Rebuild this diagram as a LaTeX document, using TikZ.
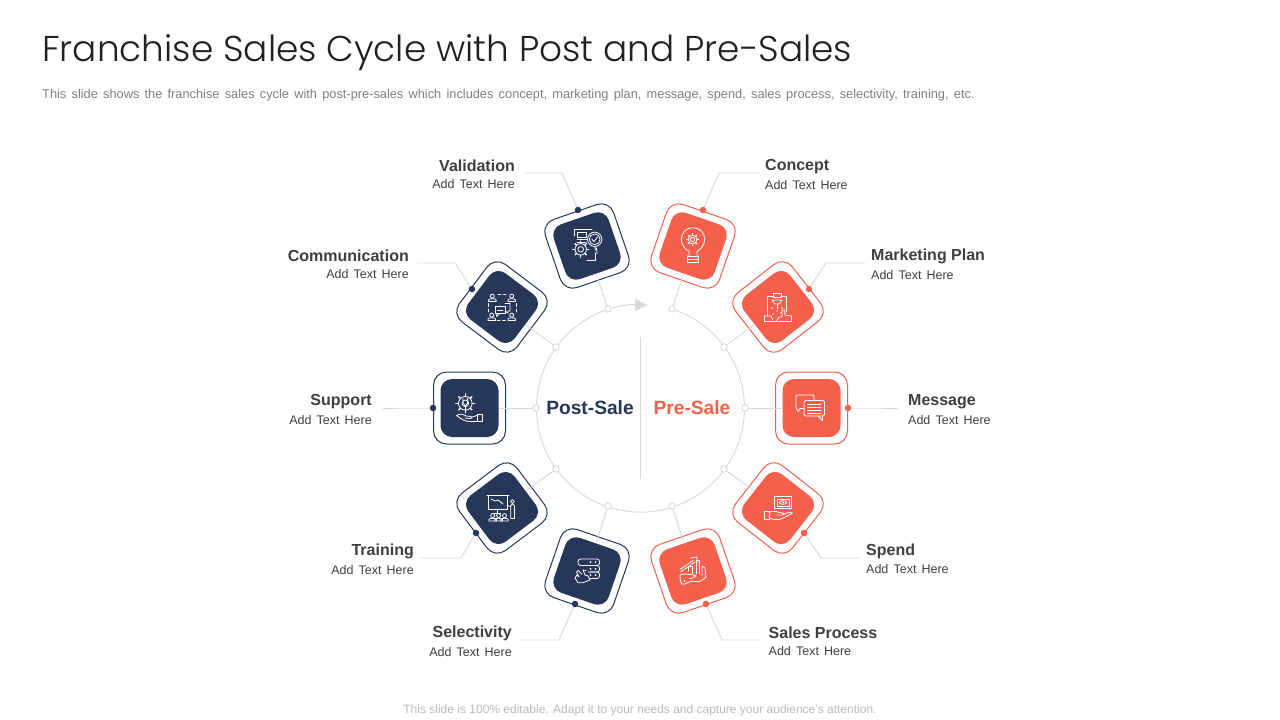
\documentclass[tikz,border=0pt]{standalone}
\usepackage{fontspec}
\setmainfont{Liberation Sans}
\newfontfamily\titlefont{Poppins Light}
\newfontfamily\widefont[WordSpace=1.65]{Liberation Sans}
\newfontfamily\subfont[WordSpace=1.47]{Liberation Sans}
\definecolor{navy}{HTML}{27375A}
\definecolor{coral}{HTML}{F5604D}
\definecolor{linegray}{HTML}{D9D9D9}
\definecolor{labelgray}{HTML}{3F3F3F}
\tikzset{
  outerbox/.style={draw=#1,fill=white,line width=1pt,rounded corners=13pt,minimum size=72pt,inner sep=0pt},
  innerbox/.style={fill=#1,rounded corners=11.5pt,minimum size=58pt,inner sep=0pt},
  ringnode/.style={circle,draw=linegray,fill=white,line width=0.9pt,minimum size=6.5pt,inner sep=0pt},
  dotnode/.style={circle,fill=#1,minimum size=6.5pt,inner sep=0pt},
  link/.style={draw=linegray,line width=0.9pt},
  icon/.style={draw=white,line width=0.8pt,line join=round,line cap=round,fill=none},
  lblR/.style={anchor=east,align=right,text=labelgray,inner sep=0pt},
  lblL/.style={anchor=west,align=left,text=labelgray,inner sep=0pt}
}
\newcommand\lbl[1]{{\fontsize{16}{20}\selectfont\bfseries #1}\\[5.5pt]{\widefont\fontsize{12.5}{14}\selectfont Add Text Here}}
% name, colour, rotation, centre, ring, dot, bend, free end
\newcommand\spoke[8]{
  \node[outerbox=#2,rotate=#3] (o#1) at (#4) {};
  \node[innerbox=#2,rotate=#3] (b#1) at (#4) {};
  \node[ringnode] (r#1) at (#5) {};
  \draw[link] (r#1) -- (b#1);
  \node[dotnode=#2] (d#1) at (#6) {};
  \coordinate (k#1) at (#7);
  \coordinate (e#1) at (#8);
  \draw[link] (d#1) -- (k#1) -- (e#1);
}
\newcommand\gearicon[3]{
  \begin{scope}[shift={(#1,#2)}]
    \draw[icon] (0,0) circle[radius=#3*0.72];
    \draw[icon] (0,0) circle[radius=#3*0.35];
    \foreach \a in {0,45,...,315} \draw[icon,line width=1.3pt] (\a:#3*0.74) -- (\a:#3);
  \end{scope}
}
\newcommand\person[2]{
  \begin{scope}[shift={(#1,#2)}]
    \draw[icon] (0,-2.4) circle[radius=2];
    \draw[icon] (-3.8,3) -- (-3.8,1.6) .. controls (-3.8,-0.2) and (3.8,-0.2) .. (3.8,1.6) -- (3.8,3) -- cycle;
  \end{scope}
}
\begin{document}
\begin{tikzpicture}[x=1pt,y=-1pt]
\useasboundingbox (0,0) rectangle (1280,720);
\fill[white] (0,0) rectangle (1280,720);
% headings
\node[anchor=west,inner sep=0pt,text=black!87] (title) at (42,53) {\titlefont\fontsize{35.9}{40}\selectfont Franchise Sales Cycle with Post and Pre-Sales};
\node[anchor=west,inner sep=0pt,text=black!50] (sub) at (42,95.2) {\subfont\fontsize{12.8}{14}\selectfont This slide shows the franchise sales cycle with post-pre-sales which includes concept, marketing plan, message, spend, sales process, selectivity, training, etc.};
\node[inner sep=0pt,text=black!27] (foot) at (640,710) {\fontsize{12}{14}\selectfont This slide is 100\% editable. Adapt it to your needs and capture your audience's attention.};
% wheel
\coordinate (wheelstart) at (672,309);
\draw[link] (wheelstart) arc[start angle=72.35,end angle=-267,radius=104pt];
\fill[linegray] (635,299) -- (647.5,305) -- (635,311) -- cycle;
\coordinate (dtop) at (640.5,337);
\coordinate (dbot) at (640.5,479);
\draw[link] (dtop) -- (dbot);
\node[text=navy,inner sep=0pt] (post) at (590,408) {\fontsize{19.2}{21}\selectfont\bfseries Post-Sale};
\node[text=coral,inner sep=0pt] (pre) at (692,408) {\fontsize{19.2}{21}\selectfont\bfseries Pre-Sale};
% spokes
\spoke{val}{navy}{19}{587,246}{608,309}{578,210}{562,173}{523,173}
\spoke{com}{navy}{-37}{502,307}{556,347}{472,289}{455,263}{417,263}
\spoke{sup}{navy}{0}{469.5,408}{536,408}{433,408}{410,408}{383,408}
\spoke{tra}{navy}{37}{502,508}{556,469}{476,533}{461,558}{421,558}
\spoke{sel}{navy}{-19}{587,571}{608,506}{575,604}{559,640}{520,640}
\spoke{con}{coral}{-19}{693,246}{672,309}{703,210}{719,173}{759,173}
\spoke{mar}{coral}{38}{778,307}{724,347}{809,289}{826,263}{865,263}
\spoke{mes}{coral}{0}{811.5,408}{745,408}{848,408}{870,408}{898,408}
\spoke{spe}{coral}{-38}{778,508}{724,469}{804,533}{821,558}{860,558}
\spoke{sal}{coral}{19}{693,571}{672,506}{706,604}{722,640}{761,640}
% labels
\node[lblR] (tval) at (515,174.3) {\lbl{Validation}};
\node[lblR] (tcom) at (409,264.3) {\lbl{Communication}};
\node[lblR] (tsup) at (372,409.3) {\lbl{Support}};
\node[lblR] (ttra) at (414,558.8) {\lbl{Training}};
\node[lblR] (tsel) at (512,641.3) {\lbl{Selectivity}};
\node[lblL] (tcon) at (765,174.3) {\lbl{Concept}};
\node[lblL] (tmar) at (871,264.3) {\lbl{Marketing Plan}};
\node[lblL] (tmes) at (908,409.3) {\lbl{Message}};
\node[lblL] (tspe) at (866,558.8) {\lbl{Spend}};
\node[lblL] (tsal) at (768.5,641.3) {\lbl{Sales Process}};
% --- icons ---
% validation
\draw[icon] (574.5,236) -- (574.5,229.5) -- (592,229.5);
\draw[icon] (577,232.5) rectangle (586,237);
\draw[icon] (577,239.5) -- (587,239.5) (577,242) -- (586,242);
\draw[icon] (587,260) -- (595,260) -- (595,253);
\draw[icon] (594.7,239.3) circle[radius=7.2];
\draw[icon] (594.7,239.3) circle[radius=5.4];
\draw[icon] (592,239.5) -- (594,241.5) -- (597.5,237);
\draw[icon] (595,246.5) -- (595.5,250) (597,253.5) -- (596.5,248);
\gearicon{580.7}{249.3}{8}
% communication
\person{492.3}{298.5}\person{511.7}{298.5}\person{491.7}{317.5}\person{511.7}{317.5}
\draw[icon,dash pattern=on 3pt off 2.5pt] (498,294.5) -- (506,294.5);
\draw[icon,dash pattern=on 3pt off 2.5pt] (488.5,303.5) -- (488.5,312);
\draw[icon,dash pattern=on 3pt off 2.5pt] (516,303.5) -- (516,312);
\draw[icon,dash pattern=on 3pt off 2.5pt] (497,320.5) -- (507,320.5);
\draw[icon] (495,306.5) rectangle (505,313.5);
\draw[icon] (497,313.5) -- (496.5,316.5) -- (500,313.5);
\draw[icon] (505,303.5) -- (510,303.5) -- (510,311) -- (508,311) -- (508,313) -- (505,311);
\draw[icon] (497.5,310) -- (503,310);
% support
\gearicon{465.3}{403.3}{9.5}
\draw[icon] (463,398.5) -- (463,403) -- (465.3,406) -- (467.6,403) -- (467.6,398.5);
\draw[icon] (465.3,406) -- (465.3,410);
\draw[icon] (456.5,415.5) .. controls (460,413.5) and (463,414) .. (466,416) -- (471,416.5) .. controls (473,417) and (472,419) .. (470,418.5) -- (465,418);
\draw[icon] (456.5,415.5) .. controls (461,419) and (465,421.5) .. (470,421.5) -- (477,421.5);
\draw[icon] (472,417) -- (477,415.5);
\draw[icon] (477,414.5) rectangle (482.5,421.5);
% training
\draw[icon] (488.5,495) rectangle (507.5,509);
\draw[icon] (487,495) -- (509,495);
\draw[icon] (491,499) -- (495,501) -- (498,500) -- (503,504);
\draw[icon] (497.5,509) -- (497.5,513) (494,513.5) -- (501,513.5);
\person{492.7}{518}\person{498.6}{518}\person{504.5}{518}
\draw[icon] (510.7,518.5) -- (510.7,506) -- (512.5,503.5) -- (514.5,506) -- (514.5,518.5) -- cycle;
\draw[icon] (512.5,501.5) circle[radius=1.9];
\draw[icon] (510.7,506.5) -- (507,505.5);
% selectivity
\draw[icon,rounded corners=2.5pt] (578,565.5) -- (578,559) -- (599.5,559) -- (599.5,565.5) -- cycle;
\draw[icon,rounded corners=2.5pt] (586,565.5) -- (599.5,565.5) -- (599.5,572) -- (588,572);
\draw[icon,rounded corners=2.5pt] (590,572) -- (599.5,572) -- (599.5,578.5) -- (590,578.5);
\foreach \yy in {562.2,568.8,575.2}{\fill[white] (590.5,\yy) circle[radius=1]; \fill[white] (595.5,\yy) circle[radius=1];}
\draw[icon] (586,570.5) -- (583,570) -- (585,575) -- (588,576) -- (590,580) -- (583,582.7) -- (578,582.7) -- (575,578) -- (577,575) -- (579,577) -- (576.5,572) -- (578.5,570.5) -- (581.5,574);
% concept
\draw[icon] (689,256) -- (689,251.5) .. controls (685,249) and (681.3,245) .. (681.3,239.3) .. controls (681.3,232.5) and (686.5,227.7) .. (693,227.7) .. controls (699.5,227.7) and (704.7,232.5) .. (704.7,239.3) .. controls (704.7,245) and (701,249) .. (697,251.5) -- (697,256);
\draw[icon] (687.5,256) -- (698.5,256) (687.5,259) -- (698.5,259) (688.5,262.5) -- (697.5,262.5);
\draw[icon] (687.5,256) -- (687.5,262.5) (698.5,256) -- (698.5,262.5);
\gearicon{692.5}{239.5}{6}
% marketing
\draw[icon] (773,296.5) -- (767.5,296.5) -- (767.5,316);
\draw[icon] (781,296.5) -- (786.5,296.5) -- (786.5,312);
\draw[icon] (773,293.5) rectangle (781,297.5);
\draw[icon] (772,300) -- (782,300) -- (779,304) -- (775,304) -- cycle;
\draw[icon] (777,304) -- (777,309);
\foreach \xx/\yy in {772/308,777/311,782/308,773/314,781/313}{\fill[white] (\xx,\yy) circle[radius=0.8];}
\draw[icon] (764.5,321.5) -- (764.5,316) -- (771,316) -- (773,320);
\draw[icon] (764.5,321.5) -- (791.5,321.5) -- (791.5,316) -- (785,315) -- (784.5,310) -- (782,310) -- (782,317) -- (779,317) -- (776,321.5);
% message
\draw[icon,rounded corners=1.5pt] (804,408.5) -- (799,408.5) -- (798.5,412.5) -- (796,408) -- (796,395) -- (814,395) -- (814,400.5);
\draw[icon,rounded corners=1.5pt] (804,400.5) rectangle (824.5,416);
\draw[icon] (818,416) -- (822.5,420.5) -- (822.5,416);
\draw[icon] (807.5,404) -- (821,404) (807.5,407) -- (821,407) (807.5,410) -- (821,410) (807.5,413) -- (821,413);
% spend
\draw[icon] (774.5,496.5) rectangle (791.5,508.5);
\draw[icon] (777,499) rectangle (789,506);
\draw[icon] (779,502.5) .. controls (781,500) and (785,500) .. (787,502.5) .. controls (785,505) and (781,505) .. (779,502.5);
\fill[white] (783,502.5) circle[radius=1];
\draw[icon] (764.5,511) rectangle (769,519.5);
\draw[icon] (769,512.5) .. controls (772,510.5) and (776,511) .. (779,512.5) -- (783,513) .. controls (785,513.5) and (784,515) .. (782,515) -- (777,515);
\draw[icon] (769,518) .. controls (773,519.5) and (778,520.5) .. (782,518.5) .. controls (786,516.5) and (790,515) .. (792.5,513) .. controls (790,512) and (786,513) .. (783.5,514);
% sales
\draw[icon] (680,569.5) -- (693,560.5);
\draw[icon] (680.5,572) -- (695,562);
\draw[icon] (690.5,558) -- (697,557) -- (697,563);
\draw[icon] (688,571) -- (688,566) -- (692,566) -- (692,574);
\draw[icon] (696,574) -- (696,560) -- (699,560) -- (699,574);
\draw[icon] (702,576) -- (702,566) -- (705,568) -- (706,577);
\draw[icon,rounded corners=2pt] (680,575) -- (686,573.5) -- (690,575) -- (695,574.5) -- (696,577) -- (690,578.5);
\draw[icon,rounded corners=2pt] (706,577) -- (700,582) -- (691,581) -- (683,585) -- (680.5,583) -- (680,575);
\fill[white] (684.5,581) circle[radius=1];
\end{tikzpicture}
\end{document}
